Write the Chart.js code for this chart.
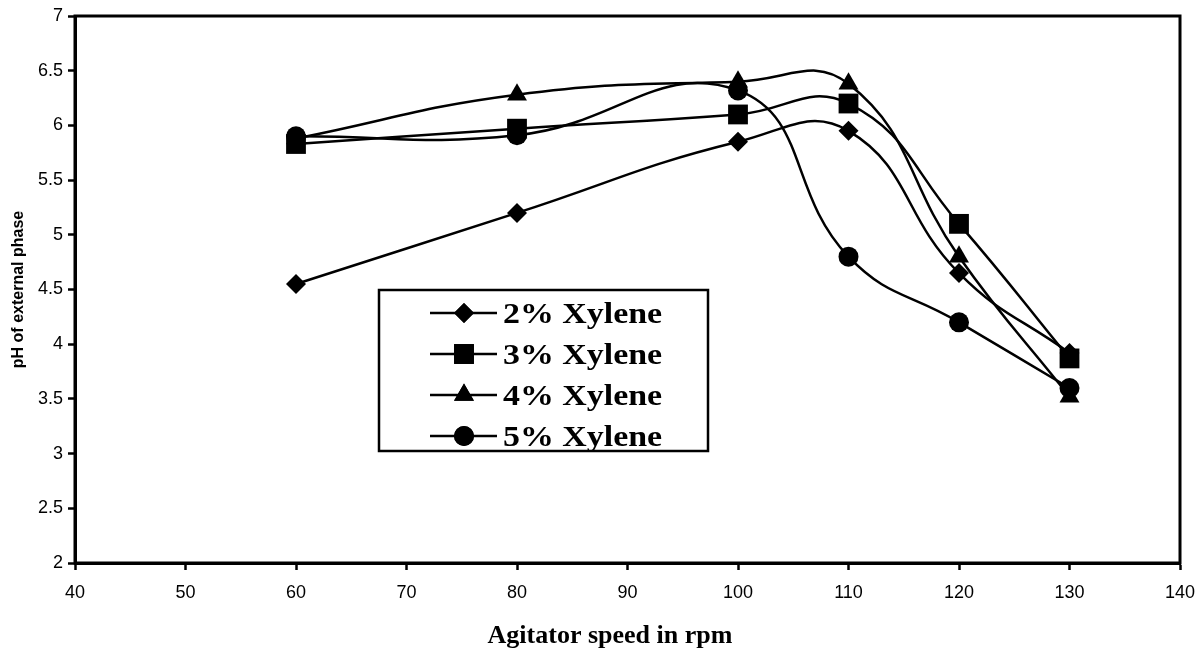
<!DOCTYPE html>
<html>
<head>
<meta charset="utf-8">
<script src="https://cdn.jsdelivr.net/npm/chart.js@4"></script>
<style>
  html, body { margin: 0; padding: 0; background: #fff; }
  #wrap { width: 1198px; height: 651px; }
</style>
</head>
<body>
<div id="wrap"><canvas id="phChart"></canvas></div>
<script>
// agitator speed (rpm)
var rpm = [60, 80, 100, 110, 120, 130];

// pH of external phase for each xylene concentration
var xylene2 = [4.55, 5.2, 5.85, 5.95, 4.65, 3.92];
var xylene3 = [5.83, 5.97, 6.1, 6.2, 5.1, 3.87];
var xylene4 = [5.88, 6.28, 6.4, 6.38, 4.8, 3.52];
var xylene5 = [5.9, 5.91, 6.32, 4.8, 4.2, 3.6];

var seriesLabels = ['2% Xylene', '3% Xylene', '4% Xylene', '5% Xylene'];
var markers = ['rectRot', 'rect', 'triangle', 'circle'];
var markerSize = [10, 14, 11.5, 10];

var xTitle = 'Agitator speed in rpm';
var yTitle = 'pH of external phase';

function pts(vals) {
  return rpm.map(function(r, i) { return {x: r, y: vals[i]}; });
}

var allSeries = [xylene2, xylene3, xylene4, xylene5];
var datasets = allSeries.map(function(vals, i) {
  return {
    label: seriesLabels[i],
    data: pts(vals),
    borderColor: '#000',
    backgroundColor: '#000',
    borderWidth: 2.5,
    pointStyle: markers[i],
    pointRadius: markerSize[i],
    pointBorderWidth: 0,
    tension: 0.45,
    fill: false
  };
});

// box round the plot area, the legend inside it and the x axis title
var framePlugin = {
  id: 'frame',
  afterDatasetsDraw: function(chart) {
    var ctx = chart.ctx, a = chart.chartArea;
    ctx.save();
    ctx.strokeStyle = '#000';
    ctx.lineWidth = 3;
    ctx.strokeRect(a.left, a.top, a.right - a.left, a.bottom - a.top);

    // legend
    var bx = 379, by = 290, bw = 329, bh = 161;
    ctx.fillStyle = '#fff';
    ctx.fillRect(bx, by, bw, bh);
    ctx.lineWidth = 2.5;
    ctx.strokeRect(bx, by, bw, bh);
    var rowY = [313, 354, 395, 436];
    chart.data.datasets.forEach(function(ds, i) {
      var y = rowY[i];
      ctx.strokeStyle = '#000';
      ctx.lineWidth = 2.5;
      ctx.beginPath();
      ctx.moveTo(430, y);
      ctx.lineTo(497, y);
      ctx.stroke();
      ctx.fillStyle = '#000';
      Chart.helpers.drawPoint(ctx, {
        pointStyle: ds.pointStyle,
        radius: ds.pointRadius,
        rotation: 0,
        borderWidth: 0
      }, 464, y);
      ctx.fill();
      ctx.save();
      ctx.translate(503, y + 2);
      ctx.scale(1.13, 1);
      ctx.font = 'bold 30px "Liberation Serif", "Times New Roman", serif';
      ctx.textBaseline = 'middle';
      ctx.textAlign = 'left';
      ctx.fillText(ds.label, 0, 0);
      ctx.restore();
    });

    // x axis title
    ctx.fillStyle = '#000';
    ctx.font = 'bold 26px "Liberation Serif", "Times New Roman", serif';
    ctx.textAlign = 'center';
    ctx.textBaseline = 'middle';
    ctx.fillText(xTitle, 610, 636);
    ctx.restore();
  }
};

var tickFont = { family: '"Liberation Sans", Arial, sans-serif', size: 18 };

new Chart(document.getElementById('phChart'), {
  type: 'line',
  data: { datasets: datasets },
  plugins: [framePlugin],
  options: {
    responsive: true,
    maintainAspectRatio: false,
    animation: false,
    layout: { padding: { top: 16, right: 18, left: 0, bottom: 0 } },
    plugins: {
      legend: { display: false },
      tooltip: { enabled: false }
    },
    scales: {
      x: {
        type: 'linear',
        min: 40,
        max: 140,
        ticks: {
          stepSize: 10,
          color: '#000',
          padding: 12,
          font: tickFont
        },
        grid: { drawOnChartArea: false, color: '#000', tickLength: 7, tickWidth: 2.5 },
        border: { color: '#000', width: 3 },
        afterFit: function(s) { s.height = 88; s.paddingRight = 0; }
      },
      y: {
        min: 2,
        max: 7,
        ticks: {
          stepSize: 0.5,
          color: '#000',
          padding: 5,
          font: tickFont,
          callback: function(v) { return String(Math.round(v * 10) / 10); }
        },
        grid: { drawOnChartArea: false, color: '#000', tickLength: 7, tickWidth: 2.5 },
        border: { color: '#000', width: 3 },
        title: {
          display: true,
          text: yTitle,
          color: '#000',
          padding: { top: 9, bottom: 0 },
          font: { family: '"Liberation Sans", Arial, sans-serif', size: 16, weight: 'bold' }
        },
        afterFit: function(s) { s.width = 75; }
      }
    }
  }
});
</script>
</body>
</html>
